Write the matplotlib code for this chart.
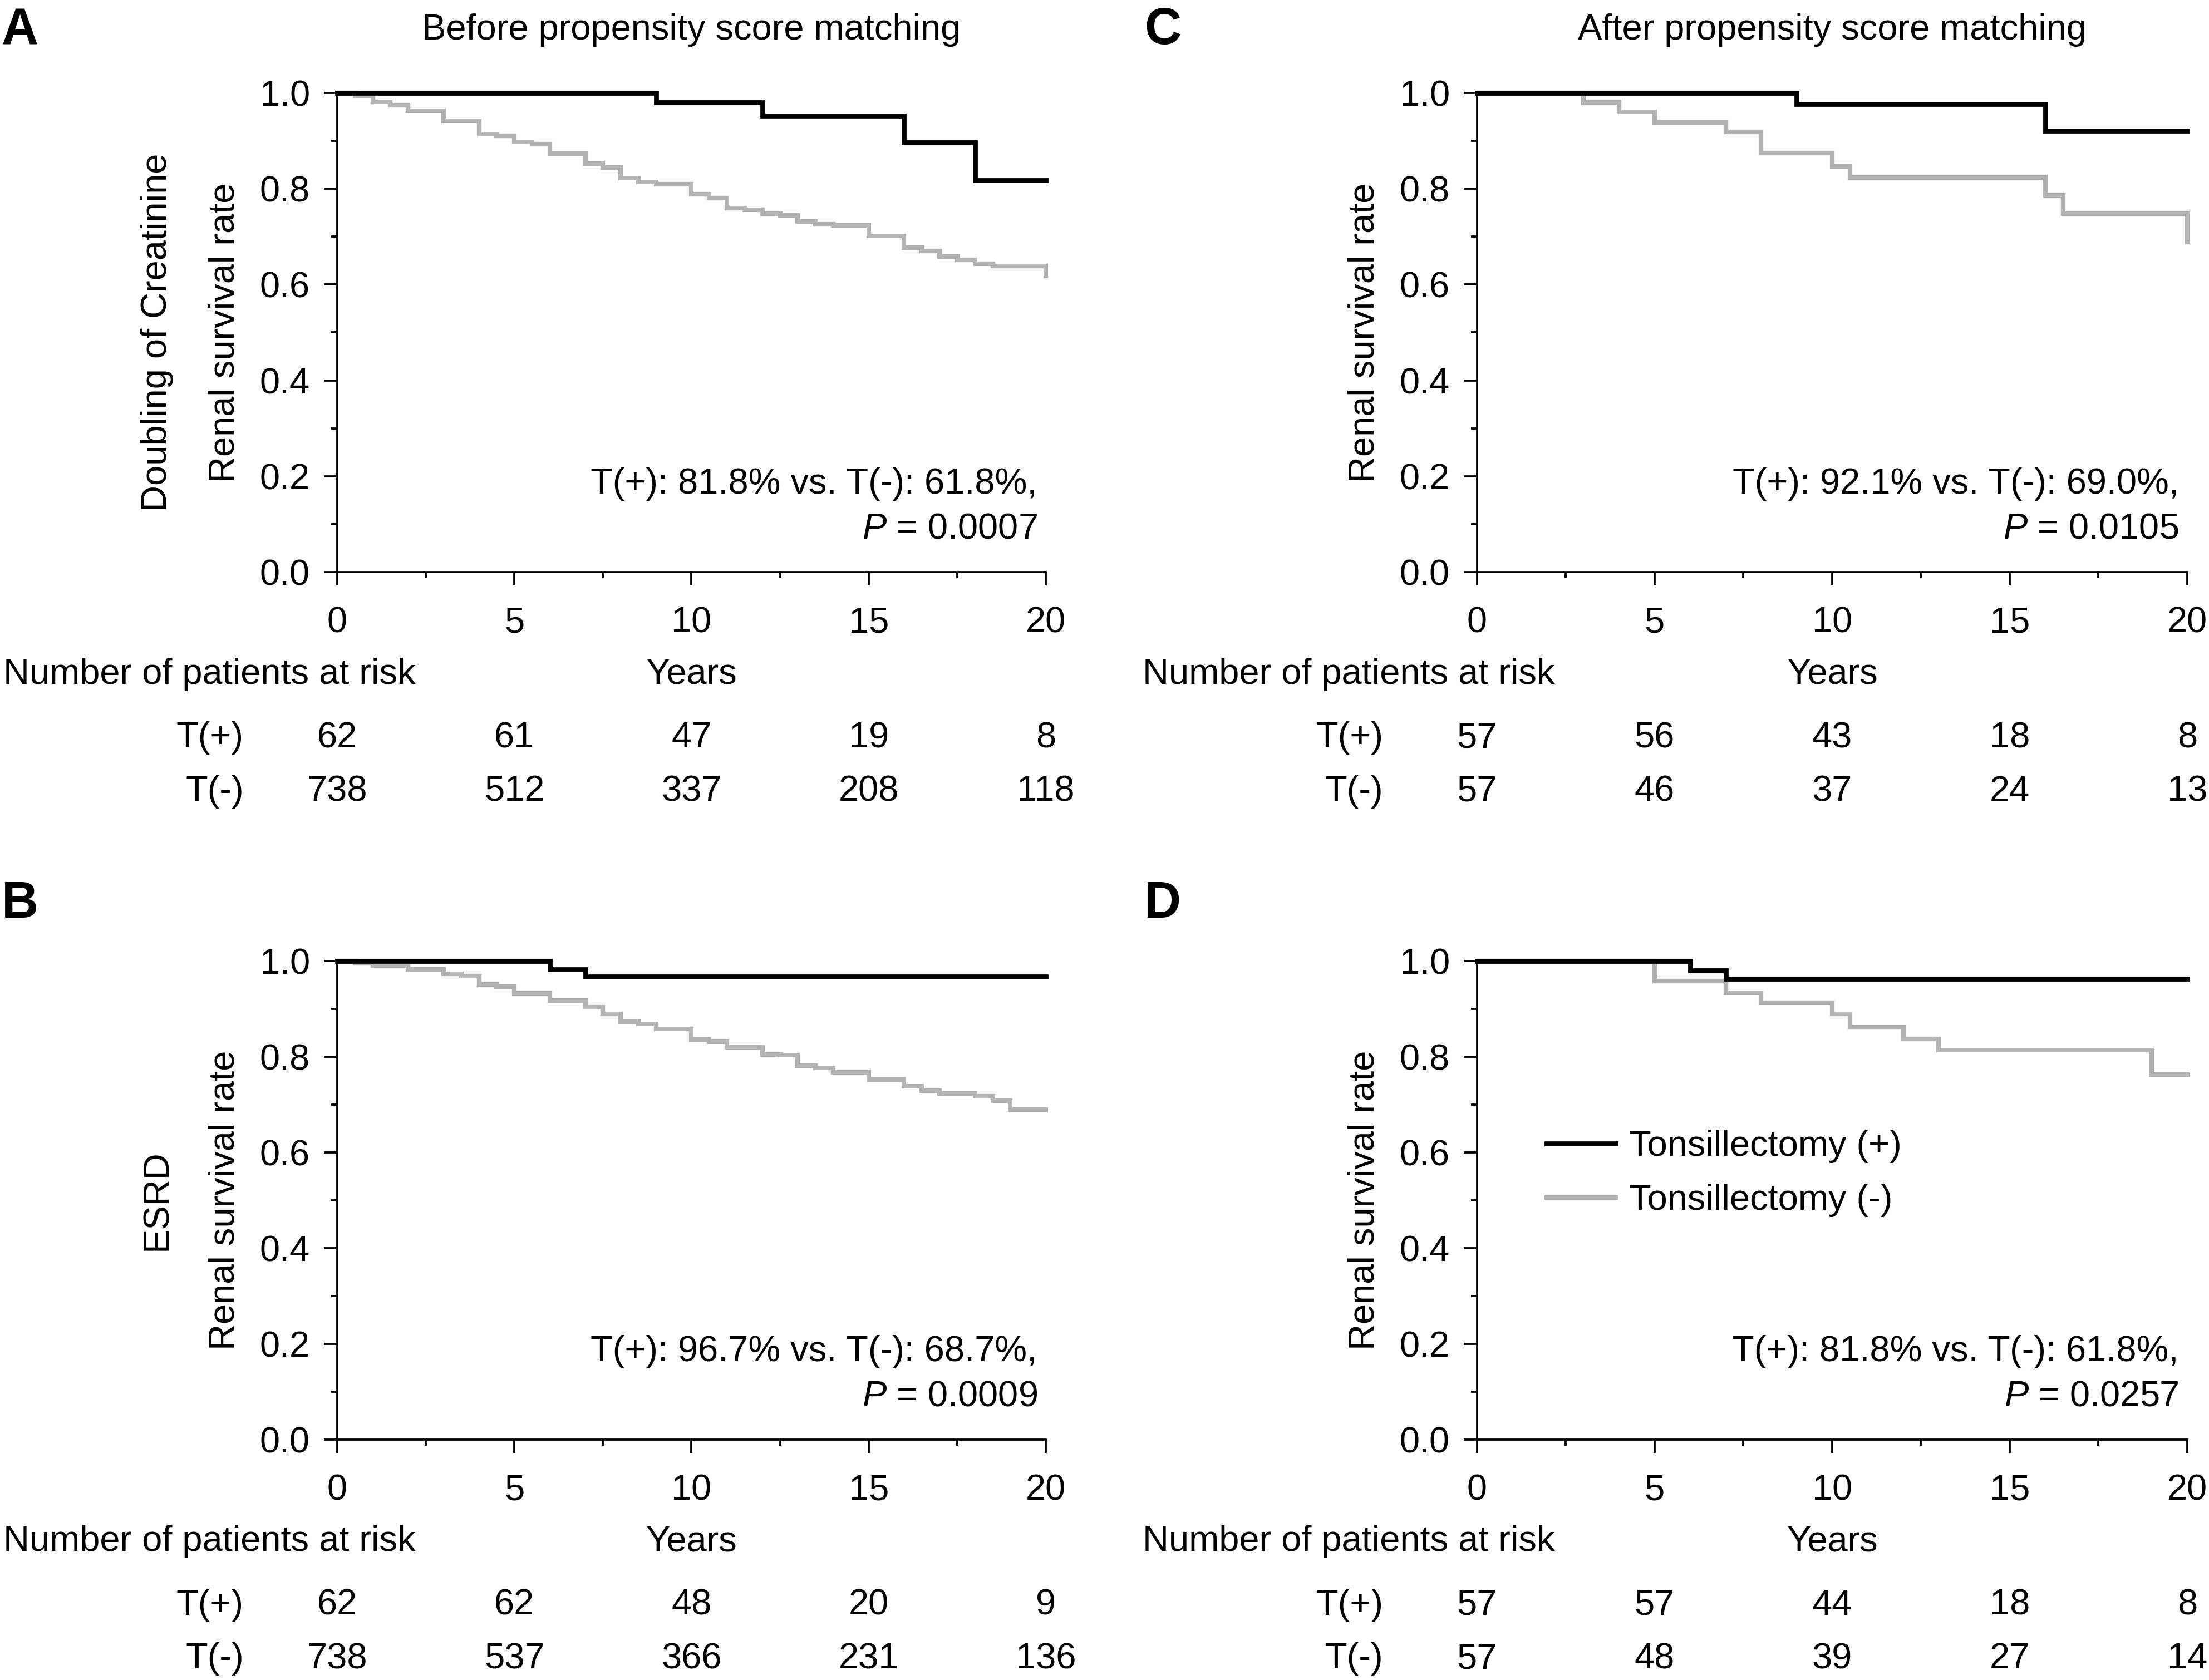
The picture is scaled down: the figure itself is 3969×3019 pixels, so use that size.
import matplotlib
matplotlib.use("Agg")
import matplotlib.pyplot as plt
from matplotlib.ticker import MultipleLocator, FormatStrFormatter

plt.rcParams['font.family'] = ['Liberation Sans', 'DejaVu Sans']
plt.rcParams['mathtext.fontset'] = 'custom'
plt.rcParams['mathtext.rm'] = 'Liberation Sans'
plt.rcParams['mathtext.it'] = 'Liberation Sans:italic'

# --- Data (years, renal survival) ---
# A: doubling of creatinine, before matching
years_a_pos = [0, 9, 12, 16, 18, 20]
surv_a_pos = [1.0, 0.980, 0.952, 0.897, 0.818, 0.818]
years_a_neg = [0, 0.5, 1, 1.5, 2, 3, 4, 4.5, 5, 5.5, 6, 7, 7.5, 8, 8.5, 9, 10, 10.5,
               11, 11.5, 12, 12.5, 13, 13.5, 14, 15, 16, 16.5, 17, 17.5, 18, 18.5, 20]
surv_a_neg = [1.0, 0.994, 0.981, 0.975, 0.963, 0.942, 0.914, 0.910, 0.898, 0.893, 0.873,
              0.852, 0.844, 0.822, 0.814, 0.809, 0.789, 0.780, 0.760, 0.756, 0.748, 0.744,
              0.732, 0.726, 0.723, 0.702, 0.677, 0.670, 0.658, 0.652, 0.643, 0.639, 0.618]

# B: ESRD, before matching
years_b_pos = [0, 6, 7, 20]
surv_b_pos = [1.0, 0.983, 0.967, 0.967]
years_b_neg = [0, 0.5, 1, 2, 3, 3.5, 4, 4.5, 5, 6, 7, 7.5, 8, 8.5, 9, 10, 10.5, 11, 12,
               12.5, 13, 13.5, 14, 15, 16, 16.5, 17, 18, 18.5, 19, 20]
surv_b_neg = [1.0, 0.995, 0.991, 0.983, 0.973, 0.969, 0.951, 0.947, 0.933, 0.918, 0.903,
              0.890, 0.873, 0.869, 0.858, 0.836, 0.831, 0.820, 0.805, 0.803, 0.781, 0.777,
              0.768, 0.752, 0.738, 0.729, 0.723, 0.718, 0.708, 0.690, 0.690]

# C: doubling of creatinine, after matching
years_c_pos = [0, 9, 16, 20]
surv_c_pos = [1.0, 0.977, 0.921, 0.921]
years_c_neg = [0, 3, 4, 5, 7, 8, 10, 10.5, 16, 16.5, 20]
surv_c_neg = [1.0, 0.980, 0.960, 0.939, 0.919, 0.874, 0.847, 0.823, 0.786, 0.748, 0.690]

# D: ESRD, after matching
years_d_pos = [0, 6, 7, 20]
surv_d_pos = [1.0, 0.980, 0.963, 0.963]
years_d_neg = [0, 5, 7, 8, 10, 10.5, 12, 13, 19, 20]
surv_d_neg = [1.0, 0.958, 0.934, 0.913, 0.889, 0.862, 0.837, 0.814, 0.763, 0.763]

# numbers at risk at 0, 5, 10, 15, 20 years
risk_years = [0, 5, 10, 15, 20]
risk_a_pos = [62, 61, 47, 19, 8]
risk_a_neg = [738, 512, 337, 208, 118]
risk_b_pos = [62, 62, 48, 20, 9]
risk_b_neg = [738, 537, 366, 231, 136]
risk_c_pos = [57, 56, 43, 18, 8]
risk_c_neg = [57, 46, 37, 24, 13]
risk_d_pos = [57, 57, 44, 18, 8]
risk_d_neg = [57, 48, 39, 27, 14]

stats_text = {
    'A': ("T(+): 81.8% vs. T(-): 61.8%,", "0.0007"),
    'B': ("T(+): 96.7% vs. T(-): 68.7%,", "0.0009"),
    'C': ("T(+): 92.1% vs. T(-): 69.0%,", "0.0105"),
    'D': ("T(+): 81.8% vs. T(-): 61.8%,", "0.0257"),
}

FS = 15.6
GRAY = '#b3b3b3'
W, H = 3970, 3019

fig = plt.figure(figsize=(W / 300, H / 300), dpi=300)


def px_axes(left, right, top, bottom):
    return fig.add_axes([left / W, 1 - bottom / H, (right - left) / W, (bottom - top) / H])


def panel(ax, tp, sp, tn, sn, rp, rn, key, legend=False):
    l_neg, = ax.step(tn, sn, where='post', color=GRAY, lw=2.0, clip_on=False,
                     solid_joinstyle='miter', label='Tonsillectomy (-)')
    l_pos, = ax.step(tp, sp, where='post', color='black', lw=2.1, clip_on=False,
                     solid_joinstyle='miter', label='Tonsillectomy (+)', zorder=3)
    ax.set_xlim(0, 20)
    ax.set_ylim(0, 1)
    for s in ['top', 'right']:
        ax.spines[s].set_visible(False)
    for s in ['left', 'bottom']:
        ax.spines[s].set_linewidth(0.9)
    ax.xaxis.set_major_locator(MultipleLocator(5))
    ax.xaxis.set_minor_locator(MultipleLocator(2.5))
    ax.yaxis.set_major_locator(MultipleLocator(0.2))
    ax.yaxis.set_minor_locator(MultipleLocator(0.1))
    ax.yaxis.set_major_formatter(FormatStrFormatter('%.1f'))
    ax.tick_params(which='major', direction='out', length=5.8, width=0.9, labelsize=FS)
    ax.tick_params(which='minor', direction='out', length=2.6, width=0.9)
    ax.tick_params(axis='x', which='major', pad=9)
    ax.tick_params(axis='y', which='major', pad=6)

    ax.text(-0.159, 0.5, 'Renal survival rate', rotation=90, ha='center', va='center',
            fontsize=FS, transform=ax.transAxes)

    line1, pval = stats_text[key]
    ax.text(0.988, 0.164, line1, ha='right', va='baseline', fontsize=FS, transform=ax.transAxes)
    ax.text(0.988, 0.07, r'$P$ = ' + pval, ha='right', va='baseline', fontsize=FS,
            transform=ax.transAxes)

    tr = ax.get_xaxis_transform()
    ax.text(10, -0.233, 'Years', ha='center', va='baseline', fontsize=FS, transform=tr)
    ax.text(-9.42, -0.233, 'Number of patients at risk', ha='left', va='baseline',
            fontsize=FS, transform=tr, clip_on=False)
    ax.text(-2.64, -0.366, 'T(+)', ha='right', va='baseline', fontsize=FS, transform=tr)
    ax.text(-2.64, -0.478, 'T(-)', ha='right', va='baseline', fontsize=FS, transform=tr)
    for x, a, b in zip(risk_years, rp, rn):
        ax.text(x, -0.366, str(a), ha='center', va='baseline', fontsize=FS, transform=tr)
        ax.text(x, -0.478, str(b), ha='center', va='baseline', fontsize=FS, transform=tr)

    if legend:
        ax.legend(handles=[l_pos, l_neg], loc='center left', bbox_to_anchor=(0.098, 0.556),
                  frameon=False, fontsize=FS, handlelength=1.9, handletextpad=0.38,
                  labelspacing=0.57, borderpad=0, borderaxespad=0)


ax_a = px_axes(606, 1879, 167, 1028)
ax_c = px_axes(2654, 3930, 167, 1028)
ax_b = px_axes(606, 1879, 1727, 2587)
ax_d = px_axes(2654, 3930, 1727, 2587)

panel(ax_a, years_a_pos, surv_a_pos, years_a_neg, surv_a_neg, risk_a_pos, risk_a_neg, 'A')
panel(ax_b, years_b_pos, surv_b_pos, years_b_neg, surv_b_neg, risk_b_pos, risk_b_neg, 'B')
panel(ax_c, years_c_pos, surv_c_pos, years_c_neg, surv_c_neg, risk_c_pos, risk_c_neg, 'C')
panel(ax_d, years_d_pos, surv_d_pos, years_d_neg, surv_d_neg, risk_d_pos, risk_d_neg, 'D',
      legend=True)

# outcome labels at far left
ax_a.text(-0.2545, 0.5, 'Doubling of Creatinine', rotation=90, ha='center', va='center',
          fontsize=FS, transform=ax_a.transAxes)
ax_b.text(-0.2545, 0.5, 'ESRD', rotation=90, ha='center', va='center',
          fontsize=FS, transform=ax_b.transAxes)

# column titles
fig.text(1242 / W, 1 - 71 / H, 'Before propensity score matching', ha='center',
         va='baseline', fontsize=FS)
fig.text(3292 / W, 1 - 71 / H, 'After propensity score matching', ha='center',
         va='baseline', fontsize=FS)

# panel letters
for letter, x, y in [('A', 3, 79), ('C', 2056, 79), ('B', 3, 1649), ('D', 2056, 1649)]:
    fig.text(x / W, 1 - y / H, letter, ha='left', va='baseline', fontsize=22,
             fontweight='bold')

fig.savefig('out.png', dpi=300)
